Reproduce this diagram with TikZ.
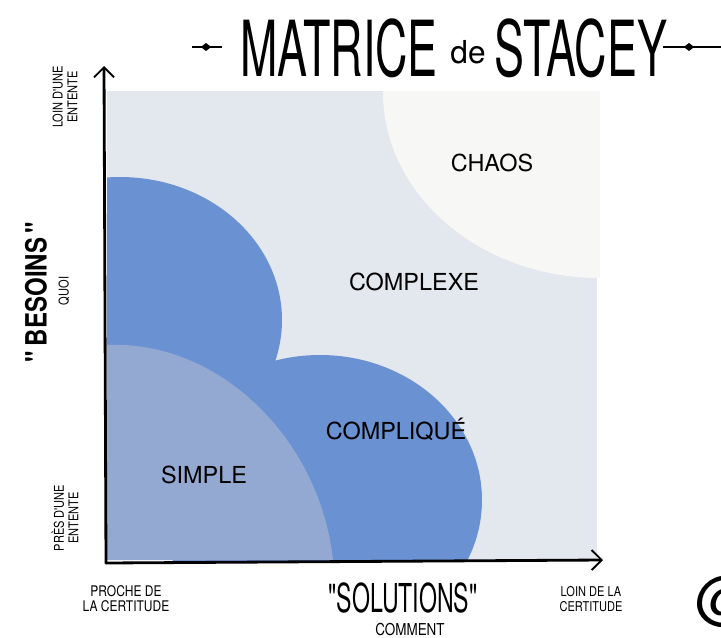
\documentclass[tikz,border=0pt]{standalone}
\usepackage{fontspec}
\setmainfont{TeX Gyre Heros}
\newfontfamily\tallfont[FakeStretch=0.58]{TeX Gyre Heros}
\newfontfamily\handfont[FakeStretch=0.82]{TeX Gyre Heros}
\usetikzlibrary{arrows.meta,positioning,shapes.geometric}
\definecolor{paneback}{HTML}{E3E7EE}
\definecolor{chaoswhite}{HTML}{F7F8F6}
\definecolor{deepblue}{HTML}{6A91D1}
\definecolor{softblue}{HTML}{94A9D2}
\tikzset{
  axis/.style={line width=2.4pt, draw=black, line cap=round,
    -{Straight Barb[length=3mm, width=6mm, line width=1.6pt]}},
  zone/.style={font=\fontsize{20}{22}\selectfont, inner sep=1pt},
  axlab/.style={font=\handfont\fontsize{12.5}{13}\selectfont, align=center, inner sep=1pt},
  sidelab/.style={axlab, rotate=90, font=\handfont\fontsize{11.5}{12.5}\selectfont},
  bigword/.style={font=\tallfont\fontsize{34}{36}\selectfont, inner sep=0pt},
  titleword/.style={font=\tallfont\fontsize{66}{70}\selectfont, inner sep=0pt},
  gem/.style={diamond, fill=black, inner sep=0pt, minimum width=9pt, minimum height=7pt},
  rule/.style={line width=1.3pt, draw=black},
}
\begin{document}
\begin{tikzpicture}[x=0.03cm, y=-0.03cm]
  \useasboundingbox (0,0) rectangle (721,638);

  % the four zones
  \begin{scope}
    \clip (107,91) rectangle (600,560);
    \fill[paneback] (107,91) rectangle (597,560);
    \fill[chaoswhite] (600,92) ellipse [x radius=217, y radius=186];
    \fill[deepblue] (120,320) ellipse [x radius=162, y radius=143];
    \fill[deepblue] (320,500) ellipse [x radius=162, y radius=145];
    \fill[softblue] (107,345) .. controls (220,340) and (320,440) .. (333,560)
      -- (107,560) -- cycle;
  \end{scope}

  \node[zone] (chaos) at (492,163) {CHAOS};
  \node[zone] (complexe) at (414,282) {COMPLEXE};
  \node[zone] (complique) at (396,429) {COMPLIQUÉ};
  \node[zone] (simple) at (204,475) {SIMPLE};

  % axes
  \coordinate (origin) at (106,563);
  \coordinate (ytop) at (104,66);
  \coordinate (xend) at (603,560);
  \draw[axis] (origin) -- (ytop);
  \draw[axis] (origin) -- (xend);

  % vertical axis labels
  \node[sidelab] (loinent) at (65,97) {LOIN D'UNE\\ENTENTE};
  \node[sidelab] (present) at (65,518) {PRÈS D'UNE\\ENTENTE};
  \node[bigword, rotate=90, font=\handfont\bfseries\fontsize{25}{27}\selectfont] (besoins) at (36,292) {"\,BESOINS\,"};
  \node[sidelab] (quoi) at (64,291) {QUOI};

  % horizontal axis labels
  \node[axlab] (proche) at (126,599) {PROCHE DE\\LA CERTITUDE};
  \node[bigword] (solutions) at (403,598) {"SOLUTIONS"};
  \node[axlab, font=\handfont\fontsize{14}{15}\selectfont] (comment) at (410,630) {COMMENT};
  \node[axlab, font=\handfont\fontsize{11.5}{13}\selectfont] (loincert) at (591,599) {LOIN DE LA\\CERTITUDE};
  \node[anchor=west, inner sep=0pt, font=\fontsize{50}{50}\selectfont] (signature) at (695,602) {@};

  % title
  \node[titleword] (matrice) at (339,48) {MATRICE};
  \node[inner sep=0pt, font=\fontsize{27}{28}\selectfont] (de) at (468,52) {de};
  \node[titleword] (stacey) at (581,48) {STACEY};
  \coordinate (la) at (192,47);
  \coordinate (lb) at (222,47);
  \coordinate (ra) at (663,47);
  \coordinate (rb) at (722,47);
  \draw[rule] (la) -- (lb);
  \draw[rule] (ra) -- (rb);
  \node[gem] (gemleft) at (206,47) {};
  \node[gem] (gemright) at (689,47) {};
\end{tikzpicture}
\end{document}
